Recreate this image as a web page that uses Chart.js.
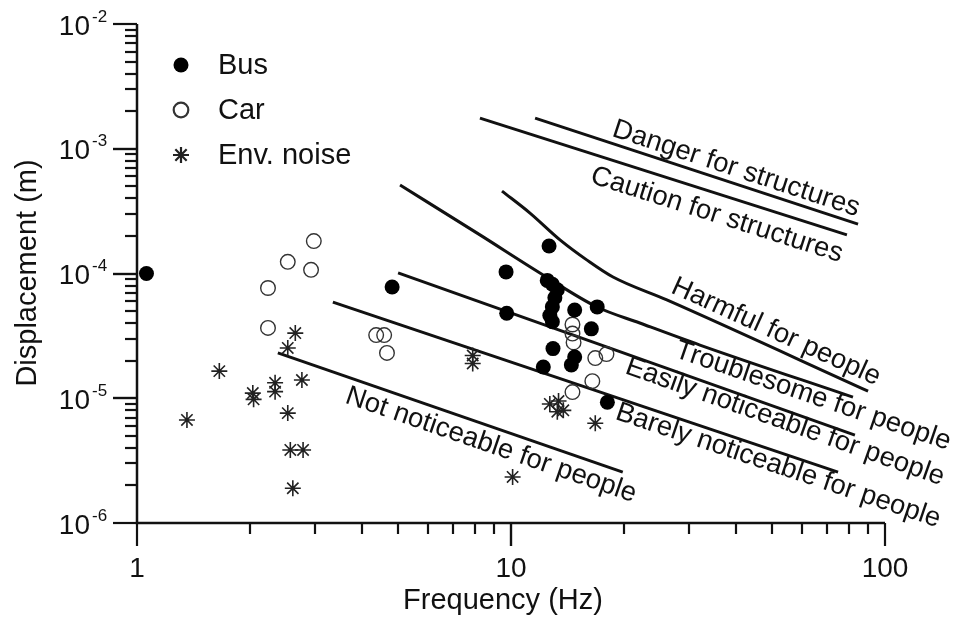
<!DOCTYPE html>
<html>
<head>
<meta charset="utf-8">
<title>Vibration criteria</title>
<script src="https://cdn.jsdelivr.net/npm/chart.js@4/dist/chart.umd.min.js"></script>
<style>
  html, body { margin: 0; padding: 0; background: #fff; }
</style>
</head>
<body>
<canvas id="vibChart" width="960" height="631"></canvas>
<script>
// measured points: frequency (Hz) and peak displacement (m)
const busFreq = [1.06, 4.81, 12.64, 9.70, 9.74, 12.5, 12.9, 13.3, 13.1, 12.9, 12.7, 12.9, 14.8, 17.0, 16.4, 12.95, 14.8, 14.5, 12.2, 18.1];
const busDisp = [1.0e-4, 7.8e-5, 1.66e-4, 1.03e-4, 4.8e-5, 8.8e-5, 8.2e-5, 7.4e-5, 6.4e-5, 5.4e-5, 4.6e-5, 4.1e-5, 5.1e-5, 5.4e-5, 3.6e-5, 2.5e-5, 2.14e-5, 1.85e-5, 1.78e-5, 9.3e-6];

const carFreq = [2.97, 2.53, 2.92, 2.24, 2.24, 4.36, 4.58, 4.66, 14.6, 14.6, 14.7, 16.8, 18.0, 16.5, 14.6];
const carDisp = [1.82e-4, 1.24e-4, 1.07e-4, 7.65e-5, 3.66e-5, 3.21e-5, 3.21e-5, 2.31e-5, 3.9e-5, 3.3e-5, 2.8e-5, 2.1e-5, 2.26e-5, 1.37e-5, 1.12e-5];

const noiseFreq = [1.36, 1.66, 2.04, 2.05, 2.34, 2.34, 2.53, 2.65, 2.76, 2.53, 2.57, 2.78, 2.61, 7.9, 7.9, 10.1, 12.7, 13.4, 13.8, 13.3, 16.8];
const noiseDisp = [6.7e-6, 1.65e-5, 1.1e-5, 9.8e-6, 1.33e-5, 1.13e-5, 2.53e-5, 3.33e-5, 1.4e-5, 7.6e-6, 3.85e-6, 3.85e-6, 1.9e-6, 2.2e-5, 1.9e-5, 2.34e-6, 9.0e-6, 9.5e-6, 8.0e-6, 7.8e-6, 6.3e-6];

// criterion curves as [frequency, displacement] pairs
const dangerPts = [[11.6, 1.76e-3], [84.7, 2.49e-4]];
const cautionPts = [[8.26, 1.76e-3], [79.1, 2.04e-4]];
const harmfulPts = [[9.46, 4.58e-4], [11.24, 3.05e-4], [13.52, 1.86e-4], [15.97, 1.28e-4], [18.74, 9.37e-5], [26.1, 6.14e-5], [90.1, 1.14e-5]];
const troublePts = [[5.05, 5.12e-4], [8.26, 2.04e-4], [11.95, 1.01e-4], [16.98, 5.39e-5], [22.1, 4.01e-5], [32.0, 2.67e-5], [82.1, 1.02e-5]];
const easilyPts = [[4.99, 1.01e-4], [83.1, 5.07e-6]];
const barelyPts = [[3.34, 5.9e-5], [74.9, 2.56e-6]];
const notPts = [[2.38, 2.31e-5], [19.9, 2.56e-6]];

const zoneNames = ['Danger for structures', 'Caution for structures', 'Harmful for people',
  'Troublesome for people', 'Easily noticeable for people', 'Barely noticeable for people',
  'Not noticeable for people'];

const seriesNames = ['Bus', 'Car', 'Env. noise'];

const xTickValues = [1, 10, 100];
const xTickLabels = ['1', '10', '100'];
const yTickValues = [1e-6, 1e-5, 1e-4, 1e-3, 1e-2];
const yTickExps = ['-6', '-5', '-4', '-3', '-2'];

const FONT = '"Liberation Sans", Arial, sans-serif';
const INK = '#111';

const toXY = (fs, ds) => fs.map((f, i) => ({ x: f, y: ds[i] }));
const pairsToXY = pts => pts.map(p => ({ x: p[0], y: p[1] }));

const curves = [dangerPts, cautionPts, harmfulPts, troublePts, easilyPts, barelyPts, notPts];

// where each zone name sits (data coords), next to its curve
const labelSpots = [[40.0, 6.9e-4], [35.5, 2.94e-4], [51.1, 3.4e-5], [64.2, 1.04e-5],
  [54.0, 6.45e-6], [51.8, 2.87e-6], [8.84, 4.2e-6]];

const pointStyles = [
  { pointStyle: 'circle', radius: 7.5, borderWidth: 0, fill: '#000', stroke: '#000' },
  { pointStyle: 'circle', radius: 7.3, borderWidth: 1.4, fill: 'rgba(0,0,0,0)', stroke: '#333' },
  { pointStyle: 'star', radius: 8, borderWidth: 1.6, fill: 'rgba(0,0,0,0)', stroke: '#222' }
];

function segmentAngle(chart, pts, f) {
  const { x, y } = chart.scales;
  let i = 0;
  while (i < pts.length - 2 && pts[i + 1][0] < f) i++;
  const x0 = x.getPixelForValue(pts[i][0]), y0 = y.getPixelForValue(pts[i][1]);
  const x1 = x.getPixelForValue(pts[i + 1][0]), y1 = y.getPixelForValue(pts[i + 1][1]);
  return Math.atan2(y1 - y0, x1 - x0);
}

const decorPlugin = {
  id: 'decor',
  afterDraw(chart) {
    const { ctx, chartArea: a, scales: { x, y } } = chart;
    ctx.save();
    ctx.strokeStyle = INK;
    ctx.fillStyle = INK;
    ctx.lineWidth = 2.5;
    ctx.lineCap = 'butt';

    // axis lines
    ctx.beginPath();
    ctx.moveTo(a.left, a.top);
    ctx.lineTo(a.left, a.bottom);
    ctx.lineTo(a.right, a.bottom);
    ctx.stroke();

    // tick marks: long at decades, short in between
    ctx.lineWidth = 2.2;
    for (let d = 1; d < 100; d *= 10) {
      for (let k = 1; k <= 10; k++) {
        const px = Math.round(x.getPixelForValue(k * d));
        const len = (k === 1 || k === 10) ? 23 : 11;
        ctx.beginPath();
        ctx.moveTo(px, a.bottom);
        ctx.lineTo(px, a.bottom + len);
        ctx.stroke();
      }
    }
    for (let d = 1e-6; d < 0.5e-2; d *= 10) {
      for (let k = 1; k <= 10; k++) {
        const py = Math.round(y.getPixelForValue(k * d));
        const len = (k === 1 || k === 10) ? 24 : 12;
        ctx.beginPath();
        ctx.moveTo(a.left, py);
        ctx.lineTo(a.left - len, py);
        ctx.stroke();
      }
    }

    // tick labels
    ctx.font = '28px ' + FONT;
    ctx.textAlign = 'center';
    ctx.textBaseline = 'middle';
    xTickValues.forEach((v, i) => {
      ctx.fillText(xTickLabels[i], x.getPixelForValue(v), a.bottom + 46);
    });
    yTickValues.forEach((v, i) => {
      const py = y.getPixelForValue(v);
      ctx.font = '28px ' + FONT;
      ctx.textAlign = 'right';
      ctx.fillText('10', 90, py + 3);
      ctx.font = '17px ' + FONT;
      ctx.textAlign = 'left';
      ctx.fillText(yTickExps[i], 92, py - 7);
    });

    // axis titles
    ctx.font = '29px ' + FONT;
    ctx.textAlign = 'center';
    ctx.fillText('Frequency (Hz)', 503, a.bottom + 78);
    ctx.save();
    ctx.translate(28, 273);
    ctx.rotate(-Math.PI / 2);
    ctx.fillText('Displacement (m)', 0, 0);
    ctx.restore();

    // zone names along the curves
    ctx.font = '27.5px ' + FONT;
    zoneNames.forEach((name, i) => {
      const [f, d] = labelSpots[i];
      const ang = segmentAngle(chart, curves[i], f);
      ctx.save();
      ctx.translate(x.getPixelForValue(f), y.getPixelForValue(d));
      ctx.rotate(ang);
      ctx.fillText(name, 0, 0);
      ctx.restore();
    });

    // legend
    seriesNames.forEach((name, i) => {
      const s = pointStyles[i];
      const ly = 65 + i * 45;
      ctx.fillStyle = s.fill;
      ctx.strokeStyle = s.stroke;
      Chart.helpers.drawPoint(ctx, { pointStyle: s.pointStyle, radius: s.radius, rotation: 0, borderWidth: s.borderWidth }, 181, ly);
      ctx.fillStyle = INK;
      ctx.font = '29px ' + FONT;
      ctx.textAlign = 'left';
      ctx.fillText(name, 218, ly + 1);
    });
    ctx.restore();
  }
};

const pointSets = [toXY(busFreq, busDisp), toXY(carFreq, carDisp), toXY(noiseFreq, noiseDisp)];

const datasets = pointSets.map((pts, i) => ({
  label: seriesNames[i],
  data: pts,
  pointStyle: pointStyles[i].pointStyle,
  pointRadius: pointStyles[i].radius,
  pointBorderWidth: pointStyles[i].borderWidth,
  pointBackgroundColor: pointStyles[i].fill,
  pointBorderColor: pointStyles[i].stroke,
  showLine: false,
  clip: false
}));

curves.forEach((pts, i) => {
  datasets.push({
    label: zoneNames[i],
    data: pairsToXY(pts),
    showLine: true,
    pointRadius: 0,
    borderColor: INK,
    borderWidth: 3,
    cubicInterpolationMode: pts.length > 2 ? 'monotone' : 'default',
    fill: false,
    clip: false
  });
});

new Chart(document.getElementById('vibChart'), {
  type: 'scatter',
  data: { datasets: datasets },
  options: {
    responsive: false,
    animation: false,
    devicePixelRatio: 1,
    layout: { padding: { left: 137, top: 24, right: 75, bottom: 108 } },
    plugins: { legend: { display: false }, tooltip: { enabled: false } },
    scales: {
      x: {
        type: 'logarithmic', min: 1, max: 100,
        grid: { display: false }, border: { display: false }, ticks: { display: false },
        afterFit: s => { s.height = 0; }
      },
      y: {
        type: 'logarithmic', min: 1e-6, max: 1e-2,
        grid: { display: false }, border: { display: false }, ticks: { display: false },
        afterFit: s => { s.width = 0; }
      }
    }
  },
  plugins: [decorPlugin]
});
</script>
</body>
</html>
